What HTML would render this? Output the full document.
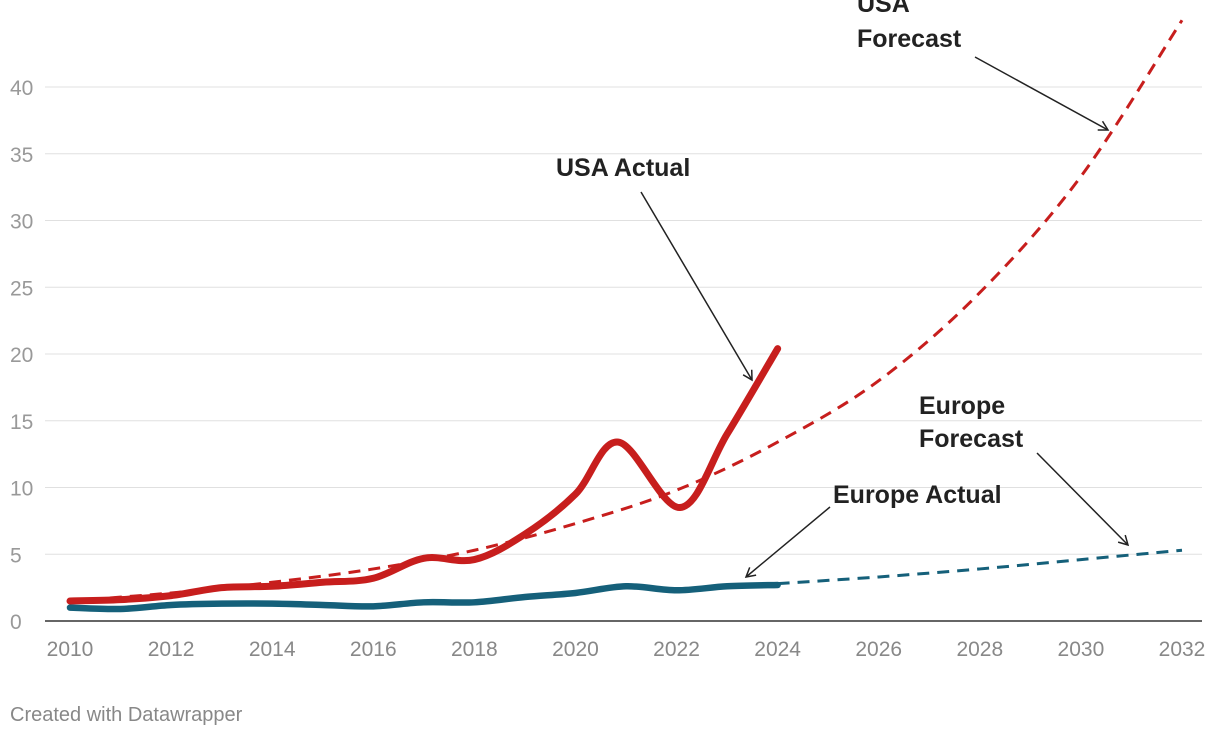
<!DOCTYPE html>
<html><head><meta charset="utf-8">
<style>
html,body{margin:0;padding:0;background:#fff;width:1220px;height:738px;overflow:hidden;font-family:"Liberation Sans",Arial,sans-serif;}
svg{display:block}
</style></head>
<body>
<svg id="chart" width="1220" height="738">
<defs>
<marker id="arr" markerWidth="12" markerHeight="12" refX="10" refY="6" orient="auto" markerUnits="userSpaceOnUse">
<path d="M1,1 L10,6 L1,11" fill="none" stroke="#222" stroke-width="1.5"/>
</marker>
</defs>
<g id="grid"></g>
<g id="series"></g>
<g id="xticks"></g>
<g id="annots" font-size="25" font-weight="bold" fill="#222">
<text><tspan x="857" y="12">USA</tspan><tspan x="857" y="47">Forecast</tspan></text>
<line x1="975" y1="57" x2="1108" y2="130" stroke="#222" stroke-width="1.5" marker-end="url(#arr)"/>
<text x="556" y="176">USA Actual</text>
<line x1="641" y1="192" x2="752" y2="380" stroke="#222" stroke-width="1.5" marker-end="url(#arr)"/>
<text x="833" y="503">Europe Actual</text>
<line x1="830" y1="507" x2="746" y2="577" stroke="#222" stroke-width="1.5" marker-end="url(#arr)"/>
<text><tspan x="919" y="414">Europe</tspan><tspan x="919" y="447">Forecast</tspan></text>
<line x1="1037" y1="453" x2="1128" y2="545" stroke="#222" stroke-width="1.5" marker-end="url(#arr)"/>
</g>
<text x="10" y="721" font-size="20" fill="#888">Created with Datawrapper</text>
</svg>
<script>
const yTicks=[0,5,10,15,20,25,30,35,40];
const xTicks=[2010,2012,2014,2016,2018,2020,2022,2024,2026,2028,2030,2032];
const usaActualYears=[2010,2011,2012,2013,2014,2015,2016,2017,2018,2019,2020,2020.85,2022.07,2023,2024];
const usaActualVals=[1.5,1.6,1.9,2.5,2.6,2.9,3.2,4.7,4.6,6.5,9.5,13.4,8.5,14,20.4];
const usaForecastYears=[2010,2012,2014,2016,2018,2020,2022,2024,2026,2028,2030,2032];
const usaForecastVals=[1.5,2.1,2.9,3.9,5.3,7.3,9.8,13.4,18.0,24.6,33.3,45.0];
const euActualYears=[2010,2011,2012,2013,2014,2015,2016,2017,2018,2019,2020,2021,2022,2023,2024];
const euActualVals=[1.0,0.9,1.2,1.3,1.3,1.2,1.1,1.4,1.4,1.8,2.1,2.6,2.3,2.6,2.7];
const euForecastYears=[2024,2026,2028,2030,2032];
const euForecastVals=[2.8,3.3,3.9,4.6,5.3];

const NS="http://www.w3.org/2000/svg";
const x=yr=>70+(yr-2010)*(1182-70)/22;
const y=v=>621-v*(621-87)/40;
function mk(tag,attrs,parent){const e=document.createElementNS(NS,tag);for(const k in attrs)e.setAttribute(k,attrs[k]);parent.appendChild(e);return e;}
const grid=document.getElementById('grid');
yTicks.forEach(t=>{
  const l=mk('line',{x1:45,x2:1202,y1:y(t),y2:y(t),stroke:t===0?'#333':'#e0e0e0','stroke-width':t===0?1.5:1},grid);
  
  
  const tx=mk('text',{x:10,y:y(t)+8,'font-size':21,fill:'#999'},grid);
  tx.textContent=t;
  
  
});
const xg=document.getElementById('xticks');
xTicks.forEach(t=>{
  const tx=mk('text',{x:x(t),y:656,'font-size':21,fill:'#888','text-anchor':'middle'},xg);
  tx.textContent=t;
  
  
});
function path(xs,vs){
  const p=xs.map((a,i)=>[x(a),y(vs[i])]);
  let d='M'+p[0][0]+','+p[0][1];
  for(let i=0;i<p.length-1;i++){
    const p0=p[i-1]||p[i],p1=p[i],p2=p[i+1],p3=p[i+2]||p2;
    const c1=[p1[0]+(p2[0]-p0[0])/6,p1[1]+(p2[1]-p0[1])/6];
    const c2=[p2[0]-(p3[0]-p1[0])/6,p2[1]-(p3[1]-p1[1])/6];
    d+=' C'+c1+' '+c2+' '+p2;
  }
  return d;
}
const sg=document.getElementById('series');
function line(xs,vs,color,w,dash,name){
  const e=mk('path',{d:path(xs,vs),fill:'none',stroke:color,'stroke-width':w,'stroke-linecap':dash?'butt':'round','stroke-linejoin':'round'},sg);
  if(dash)e.setAttribute('stroke-dasharray',dash);
  
  
}
line(usaForecastYears,usaForecastVals,'#c71e1d',3,'12 8','usa-forecast-line');
line(euForecastYears,euForecastVals,'#15607a',3,'12 8','europe-forecast-line');
line(euActualYears,euActualVals,'#15607a',6.5,null,'europe-actual-line');
line(usaActualYears,usaActualVals,'#c71e1d',7,null,'usa-actual-line');
</script>
</body></html>
